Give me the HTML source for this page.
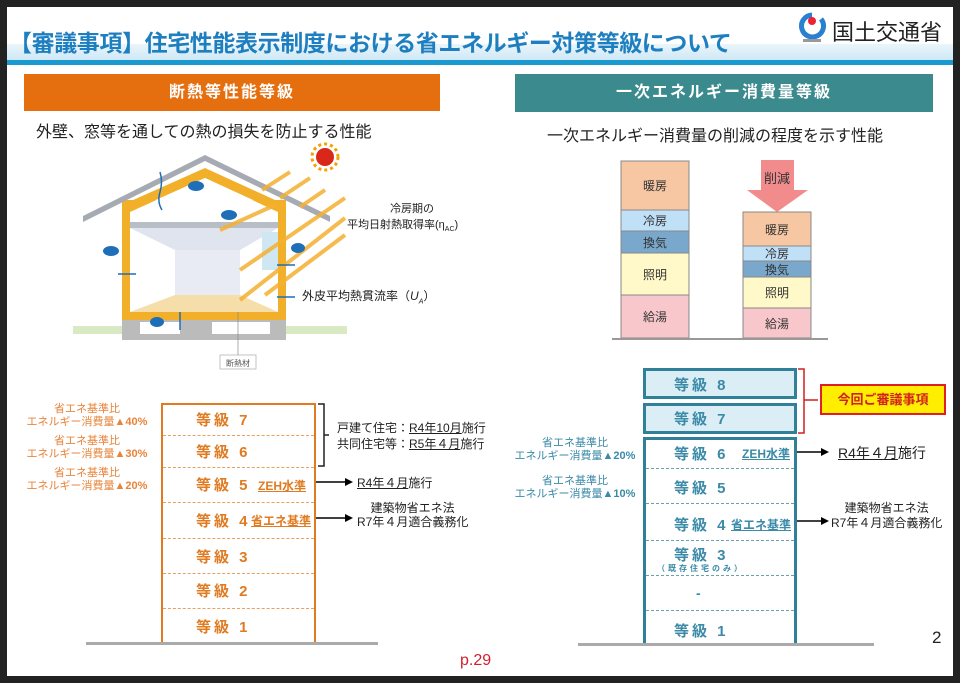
<!DOCTYPE html>
<html><head><meta charset="utf-8">
<style>
body{margin:0;width:960px;height:683px;background:#222;position:relative;overflow:hidden;font-family:"Liberation Sans","Noto Sans CJK JP",sans-serif;}
.pg{position:absolute;left:7px;top:7px;width:946px;height:669px;background:#fff;}
.a{position:absolute;white-space:nowrap;}
.or{color:#e07b22;font-weight:bold;}
.tl{color:#3a8aa8;font-weight:bold;}
.g{position:absolute;font-weight:bold;font-size:15px;letter-spacing:3px;}
.lab{position:absolute;font-size:11px;text-align:center;line-height:13px;width:140px;}
.dash{position:absolute;height:0;border-top:1px dashed;}
</style></head><body>
<div class="pg"></div>
<!-- header -->
<div class="a" style="left:7px;top:44px;width:946px;height:16px;background:linear-gradient(#eaf5fb,#cfe8f5)"></div>
<div class="a" style="left:7px;top:60px;width:946px;height:5px;background:#1b9ad0"></div>
<div class="a" style="left:9px;top:24px;font-size:23px;font-weight:bold;color:#1e7fc0;letter-spacing:-0.4px">【審議事項】住宅性能表示制度における省エネルギー対策等級について</div>
<svg class="a" style="left:797px;top:12px" width="30" height="32"><path d="M15 3a11 11 0 1 0 9 4" fill="none" stroke="#2a7fd0" stroke-width="5"/><circle cx="15" cy="9" r="4" fill="#e23"/><rect x="6" y="27" width="18" height="3" fill="#999"/></svg>
<div class="a" style="left:832px;top:15px;font-size:22px;color:#222">国土交通省</div>

<div class="a" style="left:24px;top:74px;width:416px;height:37px;background:#e56e0e;color:#fff;font-weight:bold;font-size:16px;text-align:center;line-height:37px;letter-spacing:2px">断熱等性能等級</div>
<div class="a" style="left:515px;top:74px;width:418px;height:38px;background:#3b8a8e;color:#fff;font-weight:bold;font-size:16px;text-align:center;line-height:38px;letter-spacing:2px">一次エネルギー消費量等級</div>
<div class="a" style="left:36px;top:118px;font-size:16px;color:#222">外壁、窓等を通しての熱の損失を防止する性能</div>
<div class="a" style="left:547px;top:122px;font-size:16px;color:#222">一次エネルギー消費量の削減の程度を示す性能</div>

<!-- house -->
<svg class="a" style="left:0;top:0" width="480" height="380">
<rect x="73" y="326" width="274" height="8" fill="#d8e9c4"/>
<rect x="122" y="318" width="164" height="22" fill="#bbb"/>
<rect x="140" y="322" width="40" height="12" fill="#fff"/><rect x="212" y="322" width="58" height="12" fill="#fff"/>
<rect x="122" y="200" width="164" height="120" fill="#f2b02a"/>
<polygon points="122,205 205,168 286,205 286,215 205,178 122,215" fill="#f2b02a"/>
<rect x="130" y="212" width="148" height="100" fill="#fff"/>
<polygon points="130,212 205,178 278,212" fill="#fff"/>
<rect x="130" y="222" width="148" height="6" fill="#b8bec6"/>
<polygon points="130,228 278,228 240,250 175,250" fill="#dfe4ee"/>
<rect x="175" y="250" width="65" height="45" fill="#e8ebf3"/>
<polygon points="175,295 240,295 278,312 130,312" fill="#f5deaa"/>
<rect x="262" y="232" width="16" height="38" fill="#cfe6f3"/>
<polygon points="83,222 205,161 330,222 330,216 205,155 83,216" fill="#a6abb3"/>
<circle cx="325" cy="157" r="9" fill="#d9281a"/><circle cx="325" cy="157" r="13" fill="none" stroke="#f5a000" stroke-width="3" stroke-dasharray="3 3"/>
<g stroke="#f5b030" stroke-width="4" opacity="0.85">
<line x1="290" y1="172" x2="262" y2="190"/><line x1="310" y1="178" x2="280" y2="198"/><line x1="325" y1="190" x2="300" y2="207"/>
<line x1="345" y1="198" x2="240" y2="270"/><line x1="345" y1="218" x2="240" y2="300"/><line x1="345" y1="235" x2="265" y2="295"/>
<line x1="275" y1="205" x2="220" y2="230"/>
</g>
<g fill="#1e6fb8"><ellipse cx="196" cy="186" rx="8" ry="5"/><ellipse cx="229" cy="215" rx="8" ry="5"/><ellipse cx="111" cy="251" rx="8" ry="5"/><ellipse cx="298" cy="248" rx="7" ry="5"/><ellipse cx="157" cy="322" rx="7" ry="5"/></g>
<g stroke="#1e6fb8" stroke-width="1.5" fill="none"><path d="M160 172 q3 10 0 20 q-3 10 2 18"/><path d="M118 274 h18"/><path d="M277 265 h18"/><path d="M277 297 h18"/><path d="M180 312 v18"/></g>
<line x1="238" y1="312" x2="238" y2="355" stroke="#888" stroke-width="0.7"/>
<rect x="220" y="355" width="36" height="14" fill="#fff" stroke="#aaa" stroke-width="0.7"/>
<text x="238" y="366" font-size="8" text-anchor="middle" fill="#555" font-family="Noto Sans CJK JP">断熱材</text>
</svg>
<div class="a" style="left:390px;top:200px;font-size:11px;color:#222">冷房期の</div>
<div class="a" style="left:347px;top:216px;font-size:11px;color:#222">平均日射熱取得率(η<sub style="font-size:7px">AC</sub>)</div>
<div class="a" style="left:302px;top:287px;font-size:12px;color:#222">外皮平均熱貫流率（<i>U<sub style="font-size:7px">A</sub></i>）</div>

<!-- energy bars -->
<svg class="a" style="left:0;top:0" width="960" height="360" font-family="Noto Sans CJK JP" font-size="12" text-anchor="middle" fill="#333">
<g stroke="#888" stroke-width="1">
<rect x="621" y="161" width="68" height="49" fill="#f7c7a3"/><rect x="621" y="210" width="68" height="21" fill="#bfe0f7"/><rect x="621" y="231" width="68" height="22" fill="#7aa8cc"/><rect x="621" y="253" width="68" height="42" fill="#fff8c8"/><rect x="621" y="295" width="68" height="43" fill="#f8c7cc"/>
<rect x="743" y="212" width="68" height="34" fill="#f7c7a3"/><rect x="743" y="246" width="68" height="15" fill="#bfe0f7"/><rect x="743" y="261" width="68" height="16" fill="#7aa8cc"/><rect x="743" y="277" width="68" height="31" fill="#fff8c8"/><rect x="743" y="308" width="68" height="30" fill="#f8c7cc"/>
</g>
<line x1="612" y1="339" x2="828" y2="339" stroke="#999" stroke-width="2"/>
<polygon points="761,160 794,160 794,190 808,190 777,212 747,190 761,190" fill="#f28c8c"/>
<text x="655" y="190">暖房</text><text x="655" y="225">冷房</text><text x="655" y="247">換気</text><text x="655" y="279">照明</text><text x="655" y="321">給湯</text>
<text x="777" y="183" font-size="13">削減</text>
<text x="777" y="234">暖房</text><text x="777" y="258">冷房</text><text x="777" y="274">換気</text><text x="777" y="297">照明</text><text x="777" y="328">給湯</text>
</svg>

<!-- left grade chart -->
<div class="a" style="left:161px;top:403px;width:151px;height:238px;border:2px solid #e07b22;border-bottom:none"></div>
<div class="dash" style="left:163px;top:435px;width:151px;border-color:#e6a060"></div>
<div class="dash" style="left:163px;top:467px;width:151px;border-color:#e6a060"></div>
<div class="dash" style="left:163px;top:502px;width:151px;border-color:#e6a060"></div>
<div class="dash" style="left:163px;top:538px;width:151px;border-color:#e6a060"></div>
<div class="dash" style="left:163px;top:573px;width:151px;border-color:#e6a060"></div>
<div class="dash" style="left:163px;top:608px;width:151px;border-color:#e6a060"></div>
<div class="a" style="left:86px;top:642px;width:292px;height:3px;background:#aaa"></div>
<div class="g or" style="left:196px;top:409px">等級 7</div>
<div class="g or" style="left:196px;top:441px">等級 6</div>
<div class="g or" style="left:196px;top:474px">等級 5</div>
<div class="a or" style="left:258px;top:477px;font-size:12px;text-decoration:underline">ZEH水準</div>
<div class="g or" style="left:196px;top:510px">等級 4</div>
<div class="a or" style="left:251px;top:512px;font-size:12px;text-decoration:underline">省エネ基準</div>
<div class="g or" style="left:196px;top:546px">等級 3</div>
<div class="g or" style="left:196px;top:580px">等級 2</div>
<div class="g or" style="left:196px;top:616px">等級 1</div>
<div class="lab" style="left:17px;top:403px;color:#e8843a">省エネ基準比<br>エネルギー消費量<b>▲40%</b></div>
<div class="lab" style="left:17px;top:435px;color:#e8843a">省エネ基準比<br>エネルギー消費量<b>▲30%</b></div>
<div class="lab" style="left:17px;top:467px;color:#e8843a">省エネ基準比<br>エネルギー消費量<b>▲20%</b></div>
<svg class="a" style="left:0;top:0" width="960" height="683">
<path d="M318 404 h6 v62 h-6 M324 435 h5" fill="none" stroke="#222" stroke-width="1.5"/>
<line x1="316" y1="482" x2="346" y2="482" stroke="#000" stroke-width="1.5"/><polygon points="345,478 353,482 345,486" fill="#000"/>
<line x1="316" y1="518" x2="346" y2="518" stroke="#000" stroke-width="1.5"/><polygon points="345,514 353,518 345,522" fill="#000"/>
<path d="M798 369 h6 v64 h-6 M804 400 h14" fill="none" stroke="#d02020" stroke-width="1.5"/>
<line x1="796" y1="452" x2="822" y2="452" stroke="#000" stroke-width="1.5"/><polygon points="821,448 829,452 821,456" fill="#000"/>
<line x1="796" y1="521" x2="822" y2="521" stroke="#000" stroke-width="1.5"/><polygon points="821,517 829,521 821,525" fill="#000"/>
</svg>
<div class="a" style="left:337px;top:420px;font-size:12px;color:#222;line-height:16px">戸建て住宅：<u>R4年10月</u>施行<br>共同住宅等：<u>R5年４月</u>施行</div>
<div class="a" style="left:357px;top:474px;font-size:12px;color:#222"><u>R4年４月</u>施行</div>
<div class="a" style="left:357px;top:501px;font-size:12px;color:#222;line-height:14px;text-align:center">建築物省エネ法<br>R7年４月適合義務化</div>

<!-- right grade chart -->
<div class="a" style="left:643px;top:368px;width:148px;height:25px;border:3px solid #2f8098;background:#dceef5"></div>
<div class="a" style="left:643px;top:403px;width:148px;height:25px;border:3px solid #2f8098;background:#dceef5"></div>
<div class="a" style="left:643px;top:437px;width:148px;height:206px;border:3px solid #2f8098;border-bottom:none"></div>
<div class="dash" style="left:646px;top:468px;width:148px;border-color:#6aa0b0"></div>
<div class="dash" style="left:646px;top:503px;width:148px;border-color:#6aa0b0"></div>
<div class="dash" style="left:646px;top:540px;width:148px;border-color:#6aa0b0"></div>
<div class="dash" style="left:646px;top:575px;width:148px;border-color:#6aa0b0"></div>
<div class="dash" style="left:646px;top:610px;width:148px;border-color:#6aa0b0"></div>
<div class="a" style="left:578px;top:643px;width:296px;height:3px;background:#aaa"></div>
<div class="g tl" style="left:674px;top:374px">等級 8</div>
<div class="g tl" style="left:674px;top:408px">等級 7</div>
<div class="g tl" style="left:674px;top:443px">等級 6</div>
<div class="a tl" style="left:742px;top:445px;font-size:12px;text-decoration:underline">ZEH水準</div>
<div class="g tl" style="left:674px;top:477px">等級 5</div>
<div class="g tl" style="left:674px;top:514px">等級 4</div>
<div class="a tl" style="left:731px;top:516px;font-size:12px;text-decoration:underline">省エネ基準</div>
<div class="g tl" style="left:674px;top:544px">等級 3</div>
<div class="a tl" style="left:657px;top:563px;font-size:8px;letter-spacing:3px">（既存住宅のみ）</div>
<div class="a tl" style="left:696px;top:585px;font-size:14px">-</div>
<div class="g tl" style="left:674px;top:620px">等級 1</div>
<div class="lab" style="left:505px;top:437px;color:#3a8aa8">省エネ基準比<br>エネルギー消費量<b>▲20%</b></div>
<div class="lab" style="left:505px;top:475px;color:#3a8aa8">省エネ基準比<br>エネルギー消費量<b>▲10%</b></div>
<div class="a" style="left:820px;top:384px;width:122px;height:27px;background:#ffee00;border:2px solid #e02020;color:#d02020;font-weight:bold;font-size:13px;text-align:center;line-height:27px">今回ご審議事項</div>
<div class="a" style="left:838px;top:443px;font-size:14px;color:#222"><u>R4年４月</u>施行</div>
<div class="a" style="left:831px;top:501px;font-size:12px;color:#222;line-height:15px;text-align:center">建築物省エネ法<br>R7年４月適合義務化</div>
<div class="a" style="left:932px;top:628px;font-size:17px;color:#222">2</div>
<div class="a" style="left:460px;top:652px;font-size:16px;color:#d02030">p.29</div>
</body></html>
